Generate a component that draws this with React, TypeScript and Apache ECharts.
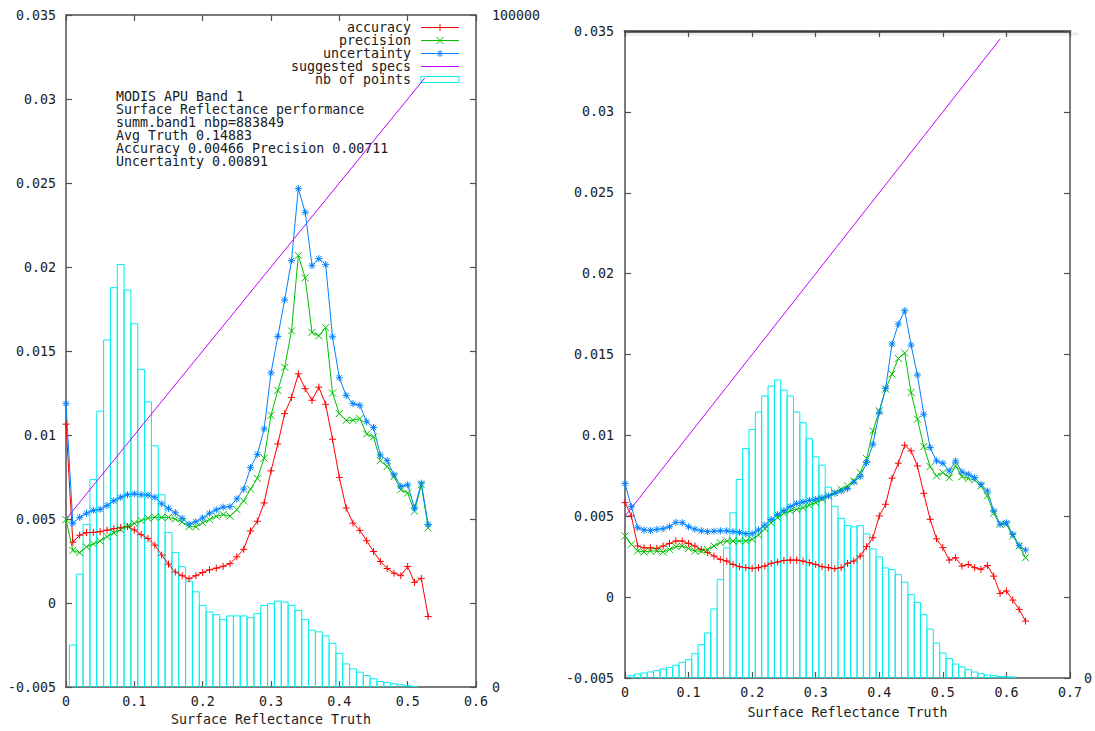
import React, { useEffect, useRef } from "react";
import * as echarts from "echarts";

const FONT = '"DejaVu Sans Mono", "Liberation Mono", monospace';
const FONT_SIZE = 13.3;
const RED = "#ff0000";
const GREEN = "#00c000";
const BLUE = "#0080ff";
const MAGENTA = "#c000ff";
const CYAN = "#00eeee";
const AXIS = "#505050";
const TEXT = "#202020";

const X_TITLE = "Surface Reflectance Truth";
const BIN_WIDTH = 0.01;

// ---------- Left panel (MODIS APU Band 1) ----------
const leftTruth = [0, 0.01, 0.02, 0.03, 0.04, 0.05, 0.06, 0.07, 0.08, 0.09, 0.1, 0.11, 0.12, 0.13, 0.14, 0.15, 0.16, 0.17, 0.18, 0.19, 0.2, 0.21, 0.22, 0.23, 0.24, 0.25, 0.26, 0.27, 0.28, 0.29, 0.3, 0.31, 0.32, 0.33, 0.34, 0.35, 0.36, 0.37, 0.38, 0.39, 0.4, 0.41, 0.42, 0.43, 0.44, 0.45, 0.46, 0.47, 0.48, 0.49, 0.5, 0.51, 0.52, 0.53];
const leftAccuracy = [0.01065, 0.00362, 0.00404, 0.00419, 0.00421, 0.00425, 0.00434, 0.00443, 0.00449, 0.00456, 0.00435, 0.00407, 0.00384, 0.00345, 0.00286, 0.00232, 0.00185, 0.00163, 0.00145, 0.00163, 0.00182, 0.00198, 0.00208, 0.00219, 0.00235, 0.00275, 0.0032, 0.00429, 0.00487, 0.00596, 0.00787, 0.00947, 0.01128, 0.01224, 0.01364, 0.01276, 0.01207, 0.01285, 0.01183, 0.00975, 0.00747, 0.00566, 0.00476, 0.00433, 0.00371, 0.00307, 0.00248, 0.00206, 0.00178, 0.00163, 0.00218, 0.00123, 0.00147, -0.0008];
const leftPrecision = [0.00497, 0.00313, 0.003, 0.00335, 0.00352, 0.0037, 0.00396, 0.00418, 0.00438, 0.00458, 0.00475, 0.00491, 0.00505, 0.00511, 0.0051, 0.0051, 0.005, 0.00483, 0.00455, 0.00454, 0.00478, 0.00497, 0.00517, 0.00527, 0.00517, 0.00557, 0.00608, 0.00678, 0.00742, 0.00862, 0.01118, 0.01266, 0.01404, 0.0162, 0.02069, 0.01936, 0.01611, 0.01591, 0.0164, 0.0125, 0.01128, 0.01088, 0.01088, 0.01098, 0.01006, 0.0099, 0.00848, 0.00813, 0.00753, 0.00675, 0.00655, 0.00547, 0.00704, 0.00448];
const leftUncertainty = [0.01187, 0.00475, 0.0051, 0.00535, 0.00552, 0.00558, 0.00581, 0.00609, 0.0063, 0.00645, 0.0065, 0.00645, 0.00643, 0.0063, 0.00591, 0.00564, 0.00537, 0.00504, 0.0047, 0.00484, 0.00507, 0.00535, 0.00555, 0.00571, 0.00574, 0.0062, 0.00678, 0.00806, 0.00885, 0.01037, 0.0137, 0.01587, 0.01804, 0.02038, 0.02467, 0.02326, 0.02008, 0.0205, 0.02014, 0.01585, 0.01341, 0.01236, 0.01187, 0.01177, 0.01079, 0.01045, 0.00882, 0.00848, 0.00763, 0.00695, 0.00704, 0.00566, 0.00714, 0.00468];
const leftSpecTruth = [0, 0.525];
const leftSpec = [0.005, 0.03125];
const leftBins = [0.01, 0.02, 0.03, 0.04, 0.05, 0.06, 0.07, 0.08, 0.09, 0.1, 0.11, 0.12, 0.13, 0.14, 0.15, 0.16, 0.17, 0.18, 0.19, 0.2, 0.21, 0.22, 0.23, 0.24, 0.25, 0.26, 0.27, 0.28, 0.29, 0.3, 0.31, 0.32, 0.33, 0.34, 0.35, 0.36, 0.37, 0.38, 0.39, 0.4, 0.41, 0.42, 0.43, 0.44, 0.45, 0.46, 0.47, 0.48, 0.49, 0.5, 0.51];
const leftCounts = [6250, 16800, 24200, 30870, 41060, 51640, 59430, 62870, 59080, 54060, 47270, 42440, 35900, 28610, 22990, 20040, 17920, 15760, 14180, 12160, 11180, 10780, 10040, 10590, 10590, 10590, 10340, 10930, 12160, 12410, 12800, 12650, 12160, 11420, 10040, 8470, 8220, 7630, 6500, 5020, 3450, 2710, 2220, 1720, 1230, 840, 690, 490, 350, 200, 100];

// ---------- Right panel ----------
const rightTruth = [0, 0.01, 0.02, 0.03, 0.04, 0.05, 0.06, 0.07, 0.08, 0.09, 0.1, 0.11, 0.12, 0.13, 0.14, 0.15, 0.16, 0.17, 0.18, 0.19, 0.2, 0.21, 0.22, 0.23, 0.24, 0.25, 0.26, 0.27, 0.28, 0.29, 0.3, 0.31, 0.32, 0.33, 0.34, 0.35, 0.36, 0.37, 0.38, 0.39, 0.4, 0.41, 0.42, 0.43, 0.44, 0.45, 0.46, 0.47, 0.48, 0.49, 0.5, 0.51, 0.52, 0.53, 0.54, 0.55, 0.56, 0.57, 0.58, 0.59, 0.6, 0.61, 0.62, 0.63];
const rightAccuracy = [0.00584, 0.00502, 0.00316, 0.00305, 0.00305, 0.00301, 0.00316, 0.00332, 0.00347, 0.00347, 0.00332, 0.00316, 0.00295, 0.00275, 0.00254, 0.00233, 0.00223, 0.00202, 0.00188, 0.00182, 0.00178, 0.00182, 0.00192, 0.00209, 0.00217, 0.00227, 0.00229, 0.00229, 0.00223, 0.00213, 0.00202, 0.00188, 0.00182, 0.00176, 0.00182, 0.00209, 0.00223, 0.00254, 0.00312, 0.00367, 0.00502, 0.00574, 0.00735, 0.00828, 0.00939, 0.00904, 0.00811, 0.00642, 0.00481, 0.00361, 0.00306, 0.00229, 0.00244, 0.00192, 0.00202, 0.00182, 0.00172, 0.00196, 0.0013, 0.00023, 0.00038, -0.00018, -0.00076, -0.00148];
const rightPrecision = [0.00378, 0.00326, 0.00285, 0.00279, 0.00285, 0.00285, 0.00279, 0.00295, 0.00312, 0.00316, 0.00301, 0.00285, 0.00285, 0.00295, 0.00316, 0.00337, 0.00347, 0.00347, 0.00347, 0.00347, 0.00357, 0.00384, 0.00423, 0.0046, 0.00491, 0.00518, 0.00533, 0.00543, 0.00553, 0.00568, 0.00584, 0.00605, 0.00625, 0.00646, 0.00667, 0.00688, 0.00718, 0.0077, 0.00857, 0.01028, 0.01152, 0.01286, 0.01379, 0.01476, 0.01509, 0.01265, 0.011, 0.00931, 0.00807, 0.00749, 0.0077, 0.00739, 0.00811, 0.00745, 0.00733, 0.00724, 0.00688, 0.00626, 0.00518, 0.0045, 0.0045, 0.00378, 0.00316, 0.00244];
const rightUncertainty = [0.00702, 0.00559, 0.00429, 0.00415, 0.00412, 0.00419, 0.00423, 0.00435, 0.00462, 0.0046, 0.00435, 0.0042, 0.0041, 0.00405, 0.00408, 0.0041, 0.0041, 0.00405, 0.004, 0.00392, 0.00392, 0.00415, 0.00445, 0.0048, 0.0051, 0.00535, 0.0056, 0.00578, 0.00588, 0.00598, 0.00605, 0.00615, 0.00626, 0.00642, 0.00656, 0.00671, 0.00712, 0.00745, 0.00832, 0.00945, 0.01143, 0.0129, 0.01565, 0.01688, 0.01771, 0.01558, 0.01373, 0.01131, 0.00925, 0.00842, 0.00828, 0.0078, 0.00842, 0.00774, 0.0076, 0.00739, 0.00698, 0.00656, 0.00533, 0.0045, 0.0046, 0.00388, 0.0032, 0.00291];
const rightSpecTruth = [0, 0.59];
const rightSpec = [0.005, 0.0345];
const rightBins = [0.01, 0.02, 0.03, 0.04, 0.05, 0.06, 0.07, 0.08, 0.09, 0.1, 0.11, 0.12, 0.13, 0.14, 0.15, 0.16, 0.17, 0.18, 0.19, 0.2, 0.21, 0.22, 0.23, 0.24, 0.25, 0.26, 0.27, 0.28, 0.29, 0.3, 0.31, 0.32, 0.33, 0.34, 0.35, 0.36, 0.37, 0.38, 0.39, 0.4, 0.41, 0.42, 0.43, 0.44, 0.45, 0.46, 0.47, 0.48, 0.49, 0.5, 0.51, 0.52, 0.53, 0.54, 0.55, 0.56, 0.57, 0.58, 0.59, 0.6, 0.61];
const rightCounts = [360, 620, 770, 930, 1130, 1390, 1650, 1960, 2420, 2840, 3760, 5160, 6960, 10670, 15210, 20110, 25530, 30680, 35480, 38420, 41100, 43580, 45120, 46050, 44500, 43580, 41100, 39450, 36980, 34190, 32900, 29500, 26550, 24690, 23560, 23350, 23560, 22270, 19950, 18710, 17010, 16760, 15980, 14800, 12890, 11700, 9790, 7570, 5410, 3860, 3000, 2160, 1700, 1280, 920, 670, 460, 360, 250, 200, 150];

const annotationLines = [
  "MODIS APU Band 1",
  "Surface Reflectance performance",
  "summ.band1 nbp=883849",
  "Avg Truth 0.14883",
  "Accuracy 0.00466 Precision 0.00711",
  "Uncertainty 0.00891",
];

const legendNames = ["accuracy", "precision", "uncertainty", "suggested specs", "nb of points"];

const PLUS = "path://M0,4L8,4M4,0L4,8";
const CROSS = "path://M0,0L8,8M8,0L0,8";
const STAR = "path://M0,4L8,4M4,0L4,8M1,1L7,7M7,1L1,7";

const fmt = (v: number) => String(Number(v.toFixed(4)));

function lineSeries(name: string, xs: number[], ys: number[], color: string, symbol: string, xi: number, yi: number) {
  return {
    name,
    type: "line",
    xAxisIndex: xi,
    yAxisIndex: yi,
    data: xs.map((x, i) => [x, ys[i]]),
    symbol,
    symbolSize: symbol === "none" ? 0 : 7,
    lineStyle: { color, width: 1 },
    itemStyle: { color, borderColor: color, borderWidth: 1 },
    z: 3,
    silent: true,
  };
}

function histSeries(name: string, centers: number[], counts: number[], xi: number, yi: number) {
  return {
    name,
    type: "custom",
    xAxisIndex: xi,
    yAxisIndex: yi,
    data: centers.map((c, i) => [c, counts[i]]),
    encode: { x: 0, y: 1 },
    z: 1,
    silent: true,
    clip: true,
    renderItem: (_params: any, api: any) => {
      const x = api.value(0) as number;
      const n = api.value(1) as number;
      const a = api.coord([x - BIN_WIDTH / 2, n]);
      const b = api.coord([x + BIN_WIDTH / 2, 0]);
      return {
        type: "rect",
        shape: { x: a[0], y: a[1], width: b[0] - a[0], height: b[1] - a[1] },
        style: { fill: "none", stroke: CYAN, lineWidth: 1 },
      };
    },
  };
}

const axisLine = (extra: any = {}) => ({ show: true, onZero: false, lineStyle: { color: AXIS, width: 1.5, ...extra } });
const ticks = { show: true, inside: true, length: 6, lineStyle: { color: AXIS, width: 1.2 } };
const labelBase = { fontFamily: FONT, fontSize: FONT_SIZE, color: TEXT };

function markerLines(kind: string, cx: number, cy: number, color: string) {
  const r = 3.5;
  const segs: number[][] = [];
  if (kind === "plus" || kind === "star") {
    segs.push([cx - r, cy, cx + r, cy], [cx, cy - r, cx, cy + r]);
  }
  if (kind === "cross" || kind === "star") {
    const d = kind === "star" ? 2.6 : r;
    segs.push([cx - d, cy - d, cx + d, cy + d], [cx + d, cy - d, cx - d, cy + d]);
  }
  return segs.map((s) => ({
    type: "line",
    shape: { x1: s[0], y1: s[1], x2: s[2], y2: s[3] },
    style: { stroke: color, lineWidth: 1 },
    silent: true,
  }));
}

function buildLegend() {
  const colors = [RED, GREEN, BLUE, MAGENTA, CYAN];
  const kinds = ["plus", "cross", "star", "none", "box"];
  const els: any[] = [];
  legendNames.forEach((name, i) => {
    const y = 27.5 + 13 * i;
    els.push({
      type: "text",
      x: 411,
      y,
      style: { text: name, align: "right", verticalAlign: "middle", fontFamily: FONT, fontSize: FONT_SIZE, fill: TEXT },
      silent: true,
    });
    if (kinds[i] === "box") {
      els.push({
        type: "rect",
        shape: { x: 421, y: y - 3, width: 38, height: 6 },
        style: { fill: "#fff", stroke: CYAN, lineWidth: 1 },
        silent: true,
      });
    } else {
      els.push({
        type: "line",
        shape: { x1: 421, y1: y, x2: 459, y2: y },
        style: { stroke: colors[i], lineWidth: 1 },
        silent: true,
      });
      if (kinds[i] !== "none") els.push(...markerLines(kinds[i], 440, y, colors[i]));
    }
  });
  return els;
}

function buildOption() {
  return {
    animation: false,
    backgroundColor: "#ffffff",
    grid: [
      { left: 66, top: 15, width: 410, height: 677, containLabel: false },
      { left: 625, top: 31, width: 454, height: 647, containLabel: false },
    ],
    xAxis: [
      {
        gridIndex: 0, type: "value", position: "bottom", min: 0, max: 0.6, interval: 0.1,
        axisLine: axisLine(), axisTick: ticks,
        axisLabel: { ...labelBase, margin: 8, formatter: fmt },
        splitLine: { show: false },
        name: X_TITLE, nameLocation: "middle", nameGap: 25,
        nameTextStyle: { ...labelBase },
      },
      {
        gridIndex: 0, type: "value", position: "top", min: 0, max: 0.6, interval: 0.1,
        axisLine: axisLine(), axisTick: ticks, axisLabel: { show: false }, splitLine: { show: false },
      },
      {
        gridIndex: 1, type: "value", position: "bottom", min: 0, max: 0.7, interval: 0.1,
        axisLine: axisLine(), axisTick: ticks,
        axisLabel: { ...labelBase, margin: 8, formatter: fmt },
        splitLine: { show: false },
        name: X_TITLE, nameLocation: "middle", nameGap: 28,
        nameTextStyle: { ...labelBase },
      },
      {
        gridIndex: 1, type: "value", position: "top", min: 0, max: 0.7, interval: 0.1,
        axisLine: { show: true, onZero: false, lineStyle: { color: "#3a3a3a", width: 2.5 } },
        axisTick: ticks, axisLabel: { show: false }, splitLine: { show: false },
      },
    ],
    yAxis: [
      {
        gridIndex: 0, type: "value", position: "left", min: -0.005, max: 0.035, interval: 0.005,
        axisLine: axisLine(), axisTick: ticks,
        axisLabel: { ...labelBase, margin: 10, formatter: fmt },
        splitLine: { show: false },
      },
      {
        gridIndex: 0, type: "value", position: "right", min: 0, max: 100000, interval: 12500,
        axisLine: axisLine(), axisTick: ticks,
        axisLabel: { ...labelBase, margin: 16, formatter: (v: number) => (v === 0 || v === 100000 ? String(v) : "") },
        splitLine: { show: false },
      },
      {
        gridIndex: 1, type: "value", position: "left", min: -0.005, max: 0.035, interval: 0.005,
        axisLine: axisLine(), axisTick: ticks,
        axisLabel: { ...labelBase, margin: 11, formatter: fmt },
        splitLine: { show: false },
      },
      {
        gridIndex: 1, type: "value", position: "right", min: 0, max: 100000, interval: 12500,
        axisLine: axisLine(), axisTick: ticks,
        axisLabel: { ...labelBase, margin: 14, formatter: (v: number) => (v === 0 ? "0" : "") },
        splitLine: { show: false },
      },
    ],
    series: [
      histSeries("nb of points", leftBins, leftCounts, 0, 1),
      lineSeries("suggested specs", leftSpecTruth, leftSpec, MAGENTA, "none", 0, 0),
      lineSeries("accuracy", leftTruth, leftAccuracy, RED, PLUS, 0, 0),
      lineSeries("precision", leftTruth, leftPrecision, GREEN, CROSS, 0, 0),
      lineSeries("uncertainty", leftTruth, leftUncertainty, BLUE, STAR, 0, 0),
      histSeries("nb of points", rightBins, rightCounts, 2, 3),
      lineSeries("suggested specs", rightSpecTruth, rightSpec, MAGENTA, "none", 2, 2),
      lineSeries("accuracy", rightTruth, rightAccuracy, RED, PLUS, 2, 2),
      lineSeries("precision", rightTruth, rightPrecision, GREEN, CROSS, 2, 2),
      lineSeries("uncertainty", rightTruth, rightUncertainty, BLUE, STAR, 2, 2),
    ],
    graphic: [
      {
        type: "rect",
        silent: true,
        z: -1,
        shape: { x: 626, y: 32.5, width: 452, height: 3 },
        style: { fill: "rgba(0,0,0,0.07)" },
      },
      {
        type: "text",
        left: 116,
        top: 90,
        silent: true,
        style: {
          text: annotationLines.join("\n"),
          fontFamily: FONT,
          fontSize: FONT_SIZE,
          lineHeight: 13,
          fill: TEXT,
        },
      },
      ...buildLegend(),
    ],
  };
}

export default function App() {
  const ref = useRef<HTMLDivElement>(null);
  useEffect(() => {
    if (!ref.current) return;
    const chart = echarts.init(ref.current, undefined, { renderer: "svg" });
    chart.setOption(buildOption() as any);
    return () => chart.dispose();
  }, []);
  return (
    <div
      ref={ref}
      style={{ position: "fixed", left: 0, top: 0, width: 1095, height: 731, background: "#fff" }}
    />
  );
}
